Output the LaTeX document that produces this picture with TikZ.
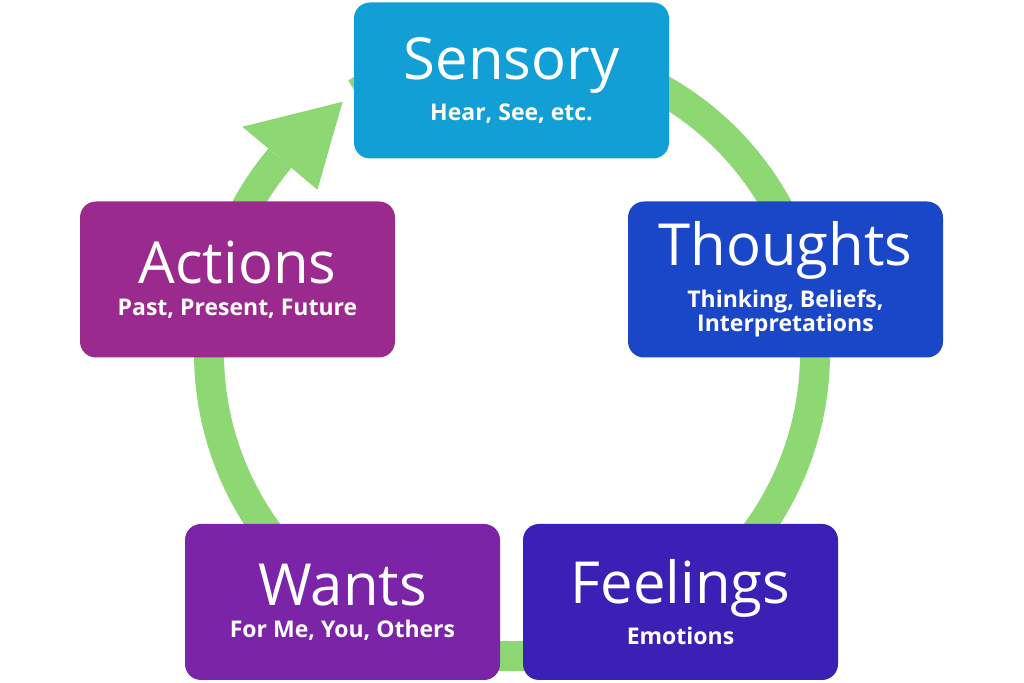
\documentclass[tikz,border=0pt]{standalone}
\usepackage{fontspec}
\setmainfont{Open Sans}
\begin{document}
\begin{tikzpicture}[x=0.5pt,y=0.5pt,
  box/.style={rounded corners=8pt,minimum width=157.5pt,minimum height=78pt,align=center,text=white,inner sep=0pt},
  ringc/.style={draw=ringg,line width=15pt}]
\definecolor{ringg}{HTML}{8ED873}
\definecolor{cS}{HTML}{129FD5}
\definecolor{cT}{HTML}{1A47C7}
\definecolor{cF}{HTML}{3B20B5}
\definecolor{cW}{HTML}{7B24A8}
\definecolor{cA}{HTML}{9B2A8E}
\newcommand{\bigt}{\fontsize{29pt}{32pt}\selectfont\mdseries}
\newcommand{\smt}{\fontsize{11.5pt}{17.5pt}\selectfont\bfseries}
\useasboundingbox (0,0) rectangle (1024,683);
\begin{scope}[shift={(512,330)}]
  \draw[ringc] (121:303) arc[start angle=121,end angle=-220,radius=303];
  \fill[ringg] (140:352) -- (124:303) -- (140:254) -- cycle;
\end{scope}
\node[box,fill=cS] (s) at (511.5,602.5) {\bigt Sensory\\[4pt]\smt Hear, See, etc.};
\node[box,fill=cT] (t) at (785.5,403.5) {\bigt Thoughts\\[4pt]\smt Thinking, Beliefs,\\\smt Interpretations};
\node[box,fill=cF] (f) at (680.5,81) {\bigt Feelings\\[4pt]\smt Emotions};
\node[box,fill=cW] (w) at (342.5,81) {\bigt Wants\\[4pt]\smt For Me, You, Others};
\node[box,fill=cA] (a) at (237.5,403.5) {\bigt Actions\\[4pt]\smt Past, Present, Future};
\end{tikzpicture}
\end{document}
